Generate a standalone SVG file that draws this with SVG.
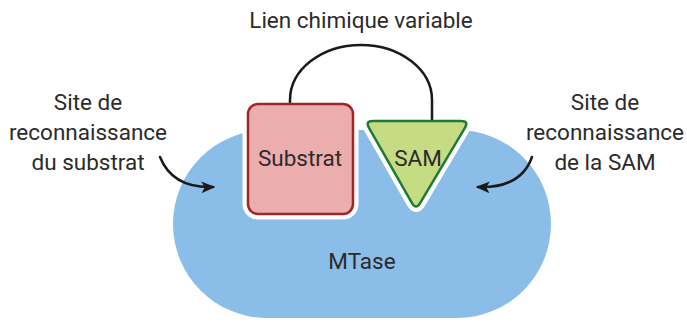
<svg xmlns="http://www.w3.org/2000/svg" width="687" height="323" viewBox="0 0 687 323">
<style>
.t{font-family:Roboto,"Liberation Sans",sans-serif;font-size:22.5px;fill:#2b2b2b;text-anchor:middle}
.ln{fill:none;stroke:#1a1a1a;stroke-width:2.5;stroke-linecap:round}
.halo{fill:#fff;stroke:#fff;stroke-width:11;stroke-linejoin:round}
</style>
<defs>
<marker id="ah" markerUnits="userSpaceOnUse" markerWidth="14" markerHeight="14" viewBox="0 0 12 12" refX="10" refY="6" orient="auto">
<path d="M0,1 L12,6 L0,11 L3,6 Z" fill="#1a1a1a"/>
</marker>
<path id="tri" d="M373,121 L461,121 Q469,121 464.9,127.9 L420.1,203.1 Q416,210 412,203.1 L369,127.9 Q365,121 373,121 Z"/>
</defs>
<g id="mtase">
<path d="M267,130 L457,130 A94,94 0 0 1 457,318 L267,318 A94,94 0 0 1 267,130 Z" fill="#8BBDE9"/>
<rect class="halo" x="248" y="104" width="105" height="110" rx="10"/>
<use href="#tri" class="halo"/>
<text class="t" x="362" y="269">MTase</text>
</g>
<g id="connectors">
<path class="ln" d="M290,108 L290,100 A71,55 0 0 1 432,100 L432,124"/>
<path class="ln" d="M160,157 C168,177 185,188 213,187" marker-end="url(#ah)"/>
<path class="ln" d="M532,157 C525,177 508,188 478,187" marker-end="url(#ah)"/>
</g>
<g id="substrat">
<rect x="248" y="104" width="105" height="110" rx="10" fill="#EBADAE" stroke="#A1262A" stroke-width="2.5"/>
<text class="t" x="300" y="166">Substrat</text>
</g>
<g id="sam">
<use href="#tri" fill="#C5DC85" stroke="#1E7A35" stroke-width="2.5" stroke-linejoin="round"/>
<text class="t" x="418" y="166">SAM</text>
</g>
<g id="lien"><text class="t" x="361" y="28">Lien chimique variable</text></g>
<g id="site-substrat">
<text class="t" x="88" y="110">Site de</text>
<text class="t" x="88" y="140">reconnaissance</text>
<text class="t" x="88" y="170">du substrat</text>
</g>
<g id="site-sam">
<text class="t" x="605" y="110">Site de</text>
<text class="t" x="605" y="140">reconnaissance</text>
<text class="t" x="605" y="170">de la SAM</text>
</g>
</svg>
